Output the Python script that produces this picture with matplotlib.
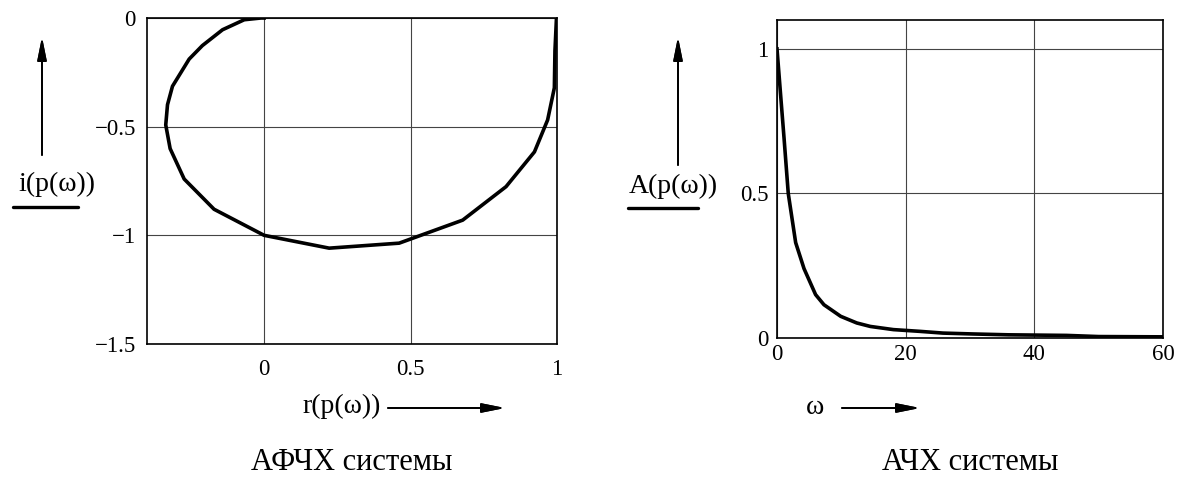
import matplotlib.pyplot as plt
from matplotlib.lines import Line2D

# Nyquist curve p(w): real and imaginary parts
re_vals = [1.0, 0.998, 0.993, 0.991, 0.968, 0.923, 0.826, 0.678, 0.461, 0.222, 0.0,
           -0.171, -0.273, -0.321, -0.336, -0.330, -0.313, -0.256, -0.211, -0.142,
           -0.068, -0.011, 0.0]
im_vals = [0.0, -0.005, -0.151, -0.321, -0.469, -0.616, -0.776, -0.930, -1.036, -1.059, -1.0,
           -0.880, -0.741, -0.601, -0.492, -0.399, -0.314, -0.189, -0.127, -0.054,
           -0.008, 0.0, 0.0]

# amplitude response A(w)
omega_vals = [0, 0.6, 1.1, 1.75, 2.9, 4.2, 6.0, 7.3, 9.9, 12.4, 14.5, 18.1, 22.2,
              25.8, 30.4, 36, 45, 50, 60]
amp_vals = [1.0, 0.83, 0.69, 0.5, 0.33, 0.24, 0.15, 0.115, 0.075, 0.052, 0.04, 0.029,
            0.023, 0.017, 0.014, 0.011, 0.009, 0.005, 0.004]

plt.rcParams['font.family'] = ['Liberation Serif', 'DejaVu Serif']

W, H = 1181, 484
fig = plt.figure(figsize=(W / 100, H / 100), dpi=100)


def px_axes(x0, x1, y0, y1):
    return fig.add_axes([x0 / W, 1 - y1 / H, (x1 - x0) / W, (y1 - y0) / H])


def style(ax):
    for s in ax.spines.values():
        s.set_linewidth(1.2)
        s.set_color('black')
    ax.grid(True, color='#444444', linewidth=0.8)
    ax.tick_params(length=0, labelsize=16.5)
    ax.set_axisbelow(True)


def arrow(x0, y0, x1, y1):
    fig.add_artist(plt.annotate('', xy=(x1 / W, 1 - y1 / H), xytext=(x0 / W, 1 - y0 / H),
                                xycoords='figure fraction', textcoords='figure fraction',
                                arrowprops=dict(arrowstyle='-|>,head_length=1.4,head_width=0.28',
                                                color='black', lw=1.3, shrinkA=0, shrinkB=0)))


def underline(x0, x1, y):
    fig.add_artist(Line2D([x0 / W, x1 / W], [1 - y / H, 1 - y / H],
                          transform=fig.transFigure, color='black', lw=2.4,
                          solid_capstyle='round'))


def label(x, y, s, size=20):
    fig.text(x / W, 1 - y / H, s, fontsize=size, ha='center', va='center')


# left: Nyquist plot
ax1 = px_axes(147, 557, 18, 344)
ax1.plot(re_vals, im_vals, color='black', lw=2.6)
ax1.set_xlim(-0.4, 1)
ax1.set_ylim(-1.5, 0)
ax1.set_xticks([0, 0.5, 1])
ax1.set_xticklabels(['0', '0.5', '1'])
ax1.set_yticks([0, -0.5, -1, -1.5])
ax1.set_yticklabels(['0', '\u22120.5', '\u22121', '\u22121.5'])
ax1.tick_params(axis='x', pad=11)
ax1.tick_params(axis='y', pad=8)
style(ax1)

label(57, 184, 'i(p(ω))')
underline(13, 78, 207)
arrow(42, 155, 42, 37)

label(342, 406, 'r(p(ω))')
arrow(388, 408, 505, 408)
label(352, 462, 'АФЧХ системы', size=22)

# right: amplitude response
ax2 = px_axes(777, 1163, 20, 338)
ax2.plot(omega_vals, amp_vals, color='black', lw=2.6)
ax2.set_xlim(0, 60)
ax2.set_ylim(0, 1.1)
ax2.set_xticks([0, 20, 40, 60])
ax2.set_yticks([0, 0.5, 1])
ax2.set_yticklabels(['0', '0.5', '1'])
ax2.tick_params(axis='x', pad=4)
ax2.tick_params(axis='y', pad=6)
style(ax2)

label(673, 186, 'A(p(ω))')
underline(628, 698, 208)
arrow(678, 165, 678, 37)

label(815, 408, 'ω')
arrow(842, 408, 920, 408)
label(970, 462, 'АЧХ системы', size=22)

fig.savefig('out.png', dpi=100)
